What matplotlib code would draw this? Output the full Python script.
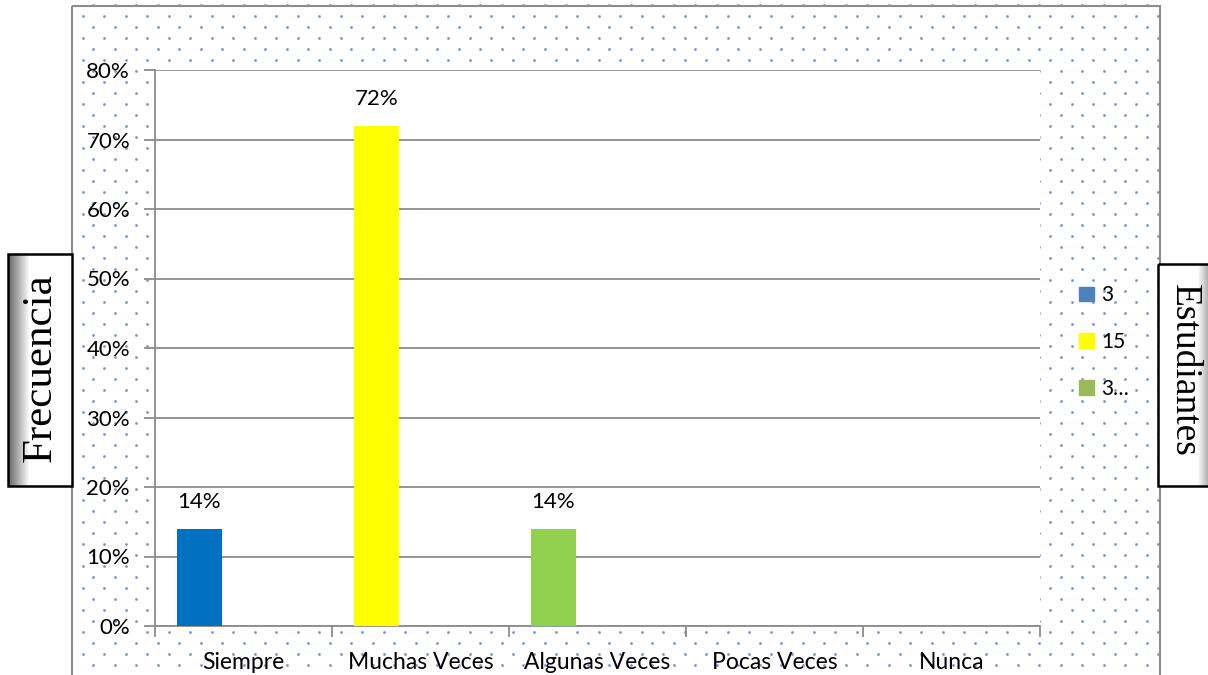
import numpy as np
import matplotlib.pyplot as plt
from matplotlib.patches import Rectangle, Patch

# chart data
categories = ["Siempre", "Muchas Veces", "Algunas Veces", "Pocas Veces", "Nunca"]
values = [0.14, 0.72, 0.14, 0.0, 0.0]
bar_colors = ["#0070C0", "#FFFF00", "#92D050", "#0070C0", "#0070C0"]
legend_labels = ["3", "15", "3…"]
legend_colors = ["#4F81BD", "#FFFF00", "#9BBB59"]
y_ticks = [0, 0.1, 0.2, 0.3, 0.4, 0.5, 0.6, 0.7, 0.8]

W, H = 1208, 675
fig = plt.figure(figsize=(W / 100, H / 100), dpi=100)
fig.patch.set_facecolor("white")

# background layer in pixel coords: frame + dotted fill + title boxes
bg = fig.add_axes([0, 0, 1, 1], zorder=0)
bg.axis("off")

rows = np.arange(4.5, H + 5, 11)
dx, dy = [], []
for i, yy in enumerate(rows):
    start = 82.7 if i % 2 else 93.2
    xs = np.arange(start, 1158, 21.5)
    dx.extend(xs)
    dy.extend([yy] * len(xs))
bg.scatter(dx, dy, s=4, color="#6B98D6", linewidths=0, zorder=1)
bg.add_patch(Rectangle((72, 5.5), 1088, 700, fill=False, edgecolor="#8C8C8C", lw=1.5, zorder=2))


def shaded_box(x0, y0, w, h, side):
    grad = np.linspace(0, 1, 64)
    if side == "right":
        grad = grad[::-1]
    g = 0.4 + 0.6 * np.clip(grad * 3.0, 0, 1)
    img = np.dstack([g, g, g]).repeat(2, axis=0)
    bg.imshow(img, extent=(x0, x0 + w, y0 + h, y0), aspect="auto", zorder=3)
    bg.add_patch(Rectangle((x0, y0), w, h, fill=False, edgecolor="black", lw=1.8, zorder=4))


shaded_box(8, 254, 64, 232, "left")
shaded_box(1158, 264, 60, 222, "right")
bg.set_xlim(0, W)
bg.set_ylim(H, 0)
bg.text(41, 368, "Frecuencia", rotation=90, ha="center", va="center",
        family="Liberation Serif", fontsize=31, zorder=5)
bg.text(1184, 370, "Estudiantes", rotation=-90, ha="center", va="center",
        family="Liberation Serif", fontsize=27, zorder=5)

# plot area
ax = fig.add_axes([155 / W, (H - 626) / H, 885 / W, 556 / H], zorder=2)
ax.set_facecolor("white")
x = np.arange(len(categories))
bars = ax.bar(x - 0.25, values, width=0.254, color=bar_colors, zorder=3)

for b, v in zip(bars, values):
    if v > 0:
        ax.text(b.get_x() + b.get_width() / 2, v + 0.038, f"{v:.0%}",
                ha="center", va="center", family="Lato", fontsize=16)

ax.set_xlim(-0.5, len(categories) - 0.5)
ax.set_ylim(0, 0.8)
ax.set_yticks(y_ticks)
ax.set_yticklabels([f"{t:.0%}" for t in y_ticks], family="Lato", fontsize=16)
ax.yaxis.grid(True, color="#8C8C8C", lw=1.3, zorder=0)
ax.set_axisbelow(True)

ax.set_xticks(x)
ax.set_xticklabels(categories, family="Lato", fontsize=16.5)
ax.set_xticks(np.arange(-0.5, len(categories)), minor=True)
ax.tick_params(axis="x", which="major", length=0, pad=19)
ax.tick_params(axis="x", which="minor", length=8, color="#8C8C8C", width=1.3)
ax.tick_params(axis="y", length=8, color="#8C8C8C", width=1.3, pad=10)

for s in ["top", "right"]:
    ax.spines[s].set_visible(False)
for s in ["left", "bottom"]:
    ax.spines[s].set_color("#8C8C8C")
    ax.spines[s].set_linewidth(1.3)

handles = [Patch(color=c) for c in legend_colors]
fig.legend(handles, legend_labels, loc="center left", bbox_to_anchor=(1060 / W, 1 - 342 / H),
           frameon=False, prop={"family": "Lato", "size": 15}, handlelength=0.72,
           handleheight=0.72, handletextpad=0.35, labelspacing=1.28)

fig.savefig("out.png", dpi=100)
